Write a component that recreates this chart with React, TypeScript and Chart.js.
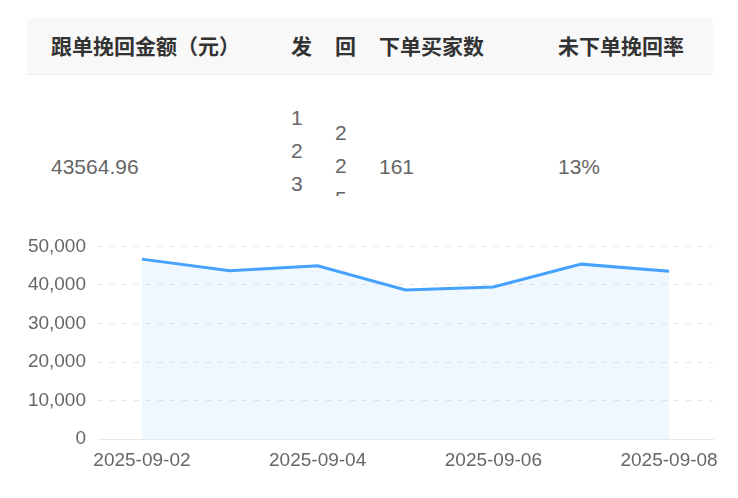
import React, { useEffect, useRef } from "react";
import { Chart, registerables } from "chart.js";

Chart.register(...registerables);

const dates = ["2025-09-02", "2025-09-03", "2025-09-04", "2025-09-05", "2025-09-06", "2025-09-07", "2025-09-08"];
const amounts = [46700, 43700, 45000, 38700, 39500, 45400, 43564.96];
const yTicksMax = 50000;
const yStep = 10000;

const headers = ["跟单挽回金额（元）", "发", "回", "下单买家数", "未下单挽回率"];
const rowAmount = "43564.96";
const rowSent = ["1", "2", "3"];
const rowBack = ["2", "2", "5"];
const rowBuyers = "161";
const rowRate = "13%";

const FONT = '"Liberation Sans", "Noto Sans CJK SC", sans-serif';

export default function App() {
  const ref = useRef<HTMLCanvasElement | null>(null);

  useEffect(() => {
    if (!ref.current) return;
    const chart = new Chart(ref.current, {
      type: "line",
      data: {
        labels: dates,
        datasets: [
          {
            data: amounts,
            borderColor: "#46a2ff",
            borderWidth: 3,
            backgroundColor: "rgba(70,162,255,0.08)",
            fill: "origin",
            pointRadius: 0,
            tension: 0,
          },
        ],
      },
      options: {
        animation: false,
        responsive: false,
        maintainAspectRatio: false,
        plugins: { legend: { display: false }, tooltip: { enabled: false } },
        layout: { padding: { left: 0, right: 25, top: 8, bottom: 22 } },
        scales: {
          x: {
            offset: true,
            grid: { display: false },
            border: { display: true, color: "#e8e8e8", width: 1 },
            ticks: {
              autoSkip: false,
              maxRotation: 0,
              color: "#666",
              font: { family: FONT, size: 19 },
              padding: 2,
              callback: (_v: any, i: number) => (i % 2 === 0 ? dates[i] : ""),
            },
          },
          y: {
            min: 0,
            max: yTicksMax,
            ticks: {
              stepSize: yStep,
              color: "#666",
              font: { family: FONT, size: 19 },
              padding: 12,
            },
            grid: {
              color: (ctx: any) => (ctx.tick && ctx.tick.value === 0 ? "rgba(0,0,0,0)" : "#e6e6e6"),
              drawTicks: false,
            },
            border: { display: false, dash: [5, 7] },
            afterFit: (s: any) => {
              s.width = 98;
            },
          },
        },
      },
    });
    return () => chart.destroy();
  }, []);

  const headStyle: React.CSSProperties = {
    position: "absolute",
    top: 34,
    fontSize: 21,
    fontWeight: "bold",
    color: "#333",
    lineHeight: "26px",
    whiteSpace: "nowrap",
  };
  const cellStyle: React.CSSProperties = {
    position: "absolute",
    top: 154,
    fontSize: 21,
    color: "#666",
    lineHeight: "26px",
    whiteSpace: "nowrap",
  };
  const headX = [51, 291, 335, 379, 558];

  return (
    <div style={{ position: "absolute", left: 0, top: 0, width: 738, height: 498, background: "#fff", fontFamily: FONT, overflow: "hidden" }}>
      <div
        style={{
          position: "absolute",
          left: 27,
          top: 18,
          width: 686,
          height: 56,
          background: "#f8f8f8",
          borderRadius: "4px 4px 0 0",
          borderBottom: "1px solid #ececec",
        }}
      />
      {headers.map((h, i) => (
        <div key={h} style={{ ...headStyle, left: headX[i] }}>
          {h}
        </div>
      ))}
      <div style={{ ...cellStyle, left: 51 }}>{rowAmount}</div>
      <div style={{ position: "absolute", left: 280, top: 95, width: 80, height: 101, overflow: "hidden" }}>
        {rowSent.map((d, i) => (
          <div key={"s" + i} style={{ position: "absolute", left: 11, top: 10 + i * 33, fontSize: 21, lineHeight: "26px", color: "#666" }}>
            {d}
          </div>
        ))}
        {rowBack.map((d, i) => (
          <div key={"b" + i} style={{ position: "absolute", left: 55, top: 25 + i * 33, fontSize: 21, lineHeight: "26px", color: "#666" }}>
            {d}
          </div>
        ))}
      </div>
      <div style={{ ...cellStyle, left: 379 }}>{rowBuyers}</div>
      <div style={{ ...cellStyle, left: 558 }}>{rowRate}</div>
      <div style={{ position: "absolute", left: 0, top: 223, width: 738, height: 273 }}>
        <canvas ref={ref} width={738} height={273} style={{ width: 738, height: 273 }} />
      </div>
    </div>
  );
}
